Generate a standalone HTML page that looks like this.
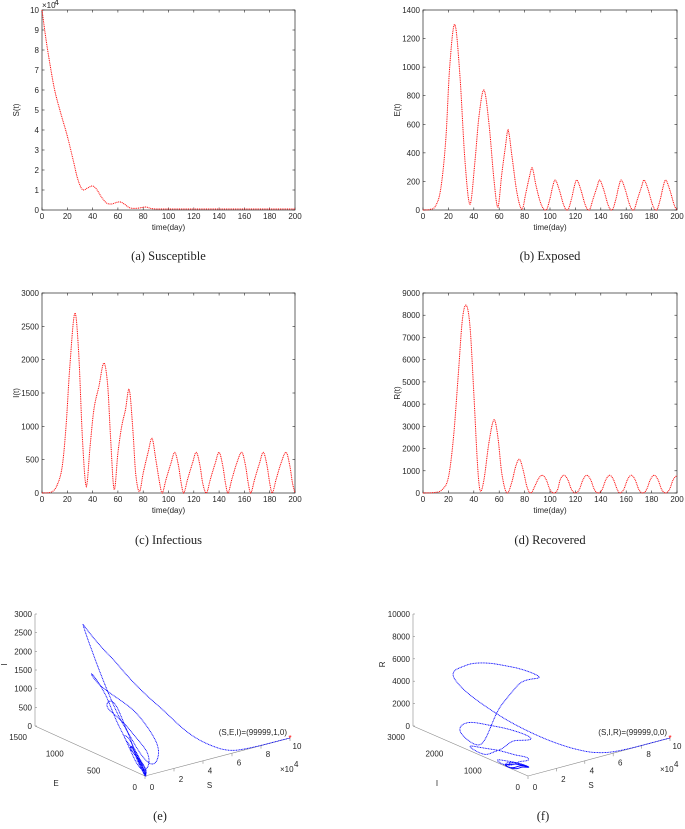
<!DOCTYPE html>
<html><head><meta charset="utf-8">
<style>
body{margin:0;background:#fff;}
svg{display:block;font-family:"Liberation Sans",sans-serif;}
.tk{font-size:8px;fill:#262626;}
.cap{font-family:"Liberation Serif",serif;font-size:12.5px;fill:#222;}
</style></head>
<body>
<svg id="fig" width="685" height="829" viewBox="0 0 685 829"></svg>
<script>
// ---- data (time in days) ----
const sTimes=[0,3,6,10,15,20,25,28,31,33,36,40,43,47,51,55,59,62,65,69,73,77,82,86,90,100,200];
const sVals =[10,8.6,7.4,6.0,4.8,3.7,2.4,1.6,1.1,1.0,1.1,1.2,1.05,0.65,0.35,0.3,0.38,0.4,0.3,0.12,0.08,0.1,0.15,0.08,0.05,0.05,0.05];
const eTimes=[0,6,10,14,18,21,25,29,33,37,41,44,48,52,56,59,62,65,67,70,74,78,81,84,86,89,93,97,100,102,104,107,111,114,117,119,121,124,128,131,134,137,139,142,146,149,152,154,156,159,163,166,169,172,174,177,181,184,187,189,191,194,198,200];
const eVals =[0,5,30,150,500,1000,1300,950,350,40,350,650,840,600,200,20,250,450,560,380,120,5,120,240,295,170,40,0,80,160,210,150,30,0,80,160,210,150,30,0,80,160,210,150,30,0,80,160,210,150,30,0,80,160,210,150,30,0,80,160,210,150,30,0];
const iTimes=[0,8,12,16,19,22,26,29,32,35,38,41,45,49,52,54,57,60,63,66,69,72,74,77,80,84,87,90,93,95,98,102,105,108,110,112,115,119,122,125,127,130,133,137,140,143,145,147,150,154,158,161,163,165,168,172,175,178,180,182,185,189,193,196,198,200];
const iVals =[0,20,120,400,1000,1900,2700,2100,800,100,700,1250,1600,1950,1600,900,50,600,1000,1250,1550,900,300,20,300,620,820,500,150,0,200,450,610,400,150,0,200,450,610,400,150,0,200,450,610,400,150,0,200,450,610,400,150,0,200,450,610,400,150,0,200,450,610,400,150,0];
const rTimes=[0,10,15,20,24,28,31,34,37,40,43,45,48,52,56,59,62,66,70,73,76,79,82,85,88,91,94,97,100,103,106,108,111,114,117,120,123,126,129,132,135,138,141,144,147,150,153,155,158,161,164,167,170,173,176,179,182,185,188,191,194,197,200];
const rVals =[0,30,150,700,2500,5500,7800,8450,7500,4500,1200,100,600,2300,3300,2500,900,0,500,1200,1520,1000,250,0,300,650,800,600,150,0,150,600,800,600,150,0,150,600,800,600,150,0,150,600,800,600,150,0,150,600,800,600,150,0,150,600,800,600,150,0,150,600,800];
const xTicks=[0,20,40,60,80,100,120,140,160,180,200];
const sTicks=[0,1,2,3,4,5,6,7,8,9,10];
const eTicks=[0,200,400,600,800,1000,1200,1400];
const iTicks=[0,500,1000,1500,2000,2500,3000];
const rTicks=[0,1000,2000,3000,4000,5000,6000,7000,8000,9000];

const NS='http://www.w3.org/2000/svg';
const svg=document.getElementById('fig');
function mk(tag,attrs,parent){const e=document.createElementNS(NS,tag);for(const k in attrs)e.setAttribute(k,attrs[k]);(parent||svg).appendChild(e);return e;}
function txt(x,y,s,cls,anchor,parent){const t=mk('text',{x:x,y:y,class:cls,'text-anchor':anchor||'middle'},parent);t.textContent=s;return t;}

function interp(ts,vs,t){
  let i=0;while(i<ts.length-2&&t>ts[i+1])i++;
  const t0=ts[i],t1=ts[i+1],h=t1-t0,u=(t-t0)/h;
  const sl=k=>{const a=Math.max(0,k-1),b=Math.min(ts.length-1,k+1);return (vs[b]-vs[a])/(ts[b]-ts[a]);};
  const m0=sl(i)*h,m1=sl(i+1)*h,u2=u*u,u3=u2*u;
  const v=(2*u3-3*u2+1)*vs[i]+(u3-2*u2+u)*m0+(-2*u3+3*u2)*vs[i+1]+(u3-u2)*m1;
  return Math.max(0,v);
}

function panel(name,x0,y0,x1,y1,ts,vs,ymax,yt,ylab,cap,capY,exp){
  const g=mk('g',{});
  
  
  const X=t=>x0+(x1-x0)*t/200, Y=v=>y1-(y1-y0)*v/ymax;
  mk('rect',{x:x0,y:y0,width:x1-x0,height:y1-y0,fill:'none',stroke:'#262626','stroke-width':0.7},g);
  xTicks.forEach(t=>{mk('line',{x1:X(t),y1:y1,x2:X(t),y2:y1-2.5,stroke:'#262626','stroke-width':0.6},g);
    mk('line',{x1:X(t),y1:y0,x2:X(t),y2:y0+2.5,stroke:'#262626','stroke-width':0.6},g);
    txt(X(t),y1+9,t,'tk','middle',g);});
  yt.forEach(v=>{mk('line',{x1:x0,y1:Y(v),x2:x0+2.5,y2:Y(v),stroke:'#262626','stroke-width':0.6},g);
    mk('line',{x1:x1,y1:Y(v),x2:x1-2.5,y2:Y(v),stroke:'#262626','stroke-width':0.6},g);
    txt(x0-3,Y(v)+3,v,'tk','end',g);});
  if(exp){const e=txt(x0,y0-2,'\u00d710','tk','start',g);e.setAttribute('font-size','7');txt(x0+12.5,y0-5,'4','tk','start',g).setAttribute('font-size','5.5');}
  txt((x0+x1)/2,y1+20,'time(day)','tk','middle',g);
  const yl=txt(0,0,ylab,'tk','middle',g);yl.setAttribute('transform','translate('+(x0-23)+','+((y0+y1)/2)+') rotate(-90)');
  let d='';for(let t=0;t<=200;t+=0.5){d+=(t?'L':'M')+X(t).toFixed(2)+','+Y(interp(ts,vs,t)).toFixed(2);}
  const p=mk('path',{d:d,fill:'none',stroke:'#ff0000','stroke-width':1,'stroke-dasharray':'1 0.8'},g);
  
  
  const c=txt((x0+x1)/2,capY,cap,'cap','middle',g);
  
  
}
panel('susceptible',42,10,295,210,sTimes,sVals,10,sTicks,'S(t)','(a)  Susceptible',260,true);
panel('exposed',423,10,677,210,eTimes,eVals,1400,eTicks,'E(t)','(b)  Exposed',260,false);
panel('infectious',42,293,295,493,iTimes,iVals,3000,iTicks,'I(t)','(c)  Infectious',544,false);
panel('recovered',423,293,677,493,rTimes,rVals,9000,rTicks,'R(t)','(d)  Recovered',544,false);

// ---- 3D phase plots (projected) ----
function phase(name,O,vS,vB,vV,bMax,vMax,bTs,bVs,vTs,vVs,bTicks,vTicksL,bLab,vLab,ann,cap){
  const g=mk('g',{});
  
  
  const P=(s,b,v)=>[O[0]+vS[0]*s/1e5+vB[0]*b/bMax+vV[0]*v/vMax, O[1]+vS[1]*s/1e5+vB[1]*b/bMax+vV[1]*v/vMax];
  const ax='#888';
  const line=(a,b)=>mk('line',{x1:a[0],y1:a[1],x2:b[0],y2:b[1],stroke:ax,'stroke-width':0.6},g);
  line(P(0,0,0),P(1e5,0,0));line(P(0,0,0),P(0,bMax,0));line(P(0,bMax,0),P(0,bMax,vMax));
  [0,2,4,6,8,10].forEach(s=>{const p=P(s*1e4,0,0);mk('line',{x1:p[0],y1:p[1],x2:p[0],y2:p[1]+3,stroke:ax,'stroke-width':0.6},g);txt(p[0]+7,p[1]+14-s*0.3,s,'tk','middle',g);});
  bTicks.forEach(b=>{const p=P(0,b,0);txt(p[0]-8,p[1]+14,b,'tk','end',g);});
  vTicksL.forEach(v=>{const p=P(0,bMax,v);mk('line',{x1:p[0],y1:p[1],x2:p[0]+2,y2:p[1],stroke:ax,'stroke-width':0.6},g);txt(p[0]-3,p[1]+3,v,'tk','end',g);});
  const sp=P(0,0,0),sE=P(1e5,0,0);
  txt((sp[0]+sE[0])/2-8,sp[1]+12,'S','tk','middle',g).setAttribute('font-size','9');
  const bp=P(0,bMax*0.4,0);txt(bp[0]-45,bp[1]+30,bLab,'tk','middle',g).setAttribute('font-size','9');
  const vp=P(0,bMax,vMax*0.55);const vl=txt(0,0,vLab,'tk','middle',g);vl.setAttribute('font-size','9');vl.setAttribute('transform','translate('+(vp[0]-28)+','+vp[1]+') rotate(-90)');
  txt(sE[0]-10,sE[1]+34,'\u00d710','tk','start',g);txt(sE[0]+4,sE[1]+29,'4','tk','start',g).setAttribute('font-size','5.5');
  let d='';for(let t=0;t<=200;t+=0.25){const s=interp(sTimes,sVals,t)*1e4,b=interp(bTs,bVs,t),v=interp(vTs,vVs,t);const p=P(s,b,v);d+=(t?'L':'M')+p[0].toFixed(2)+','+p[1].toFixed(2);}
  const c=mk('path',{d:d,fill:'none',stroke:'#0000ff','stroke-width':0.9,'stroke-dasharray':'1 0.6'},g);
  
  
  const st=P(1e5,0,0);
  const m=mk('text',{x:st[0],y:st[1]+3,fill:'#ff0000','font-size':'8','text-anchor':'middle'},g);m.textContent='*';
  
  
  const a=txt(st[0]-3,st[1]-3,ann,'tk','end',g);
  
  
  const cp=txt(O[0]+15,820,cap,'cap','middle',g);
  
  
}
phase('phase-sei',[145,776],[145,-38],[-110,-50],[0,-112],1500,3000,eTimes,eVals,iTimes,iVals,[0,500,1000,1500],[0,500,1000,1500,2000,2500,3000],'E','I','(S,E,I)=(99999,1,0)','(e)');
phase('phase-sir',[528,776],[142,-38],[-115,-50],[0,-112],3000,10000,iTimes,iVals,rTimes,rVals,[0,1000,2000,3000],[0,2000,4000,6000,8000,10000],'I','R','(S,I,R)=(99999,0,0)','(f)');
</script>
</body></html>
